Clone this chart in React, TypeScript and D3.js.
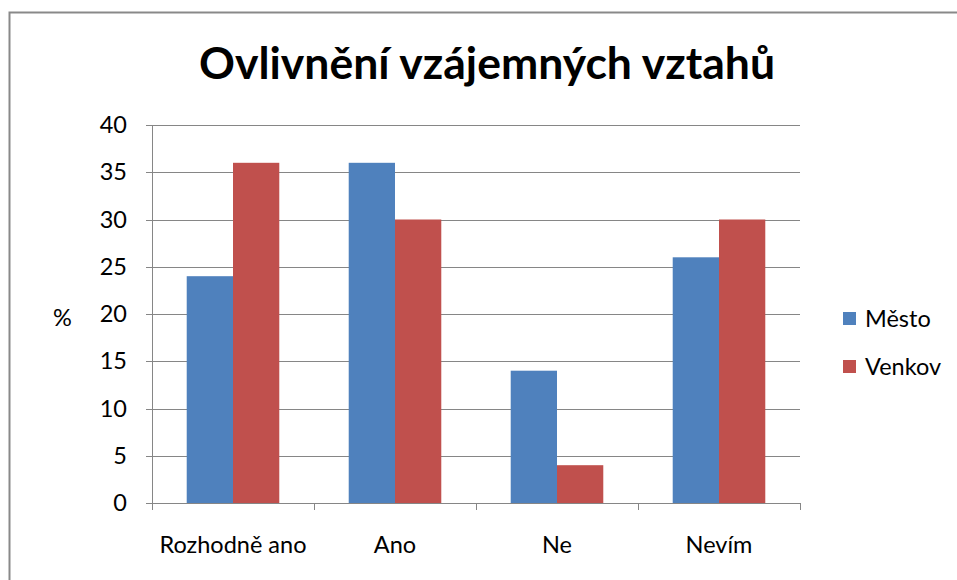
import * as d3 from "d3";

const title = "Ovlivnění vzájemných vztahů";
const categories = ["Rozhodně ano", "Ano", "Ne", "Nevím"];
const seriesNames = ["Město", "Venkov"];
const mestoValues = [24, 36, 14, 26];
const venkovValues = [36, 30, 4, 30];
const yTickValues = [0, 5, 10, 15, 20, 25, 30, 35, 40];
const colors = ["#4F81BD", "#C0504D"];

const W = 957;
const H = 580;
const plot = { left: 152, right: 800, top: 125, bottom: 503 };
const font = "Lato, Carlito, Calibri, sans-serif";
const labelSize = 23.5;

export default function App() {
	const x0 = d3
		.scaleBand<string>()
		.domain(categories)
		.range([plot.left, plot.right]);

	// Excel gap width ~75%: group takes band / 1.75
	const groupW = x0.bandwidth() / 1.75;
	const x1 = d3
		.scaleBand<string>()
		.domain(seriesNames)
		.range([0, groupW]);

	const y = d3.scaleLinear().domain([0, 40]).range([plot.bottom, plot.top]);

	const series = [mestoValues, venkovValues];
	const gridColor = "#868686";

	return (
		<div style={{ position: "fixed", left: 0, top: 0 }}>
			<svg width={W} height={H} style={{ display: "block", background: "#fff" }}>
				<rect
					x={9.5}
					y={12.5}
					width={W + 20}
					height={H + 20}
					fill="#fff"
					stroke="#898989"
					strokeWidth={2}
				/>
				<text
					x={487}
					y={79}
					textAnchor="middle"
					fontFamily={font}
					fontWeight="bold"
					fontSize={44.5}
					fill="#000"
				>
					{title}
				</text>

				{/* grid + y ticks */}
				{yTickValues.map((t) => (
					<g key={t}>
						<line
							x1={plot.left - 6}
							x2={plot.right}
							y1={Math.round(y(t)) + 0.5}
							y2={Math.round(y(t)) + 0.5}
							stroke={gridColor}
							strokeWidth={1}
						/>
						<text
							x={127}
							y={y(t) + 8}
							textAnchor="end"
							fontFamily={font}
							fontSize={labelSize}
							fill="#000"
						>
							{t}
						</text>
					</g>
				))}

				{/* bars */}
				{categories.map((c, i) => {
					const gx = (x0(c) as number) + (x0.bandwidth() - groupW) / 2;
					return (
						<g key={c}>
							{seriesNames.map((s, j) => (
								<rect
									key={s}
									x={gx + (x1(s) as number)}
									y={y(series[j][i])}
									width={x1.bandwidth()}
									height={y(0) - y(series[j][i])}
									fill={colors[j]}
								/>
							))}
						</g>
					);
				})}

				{/* axes */}
				<line
					x1={plot.left + 0.5}
					x2={plot.left + 0.5}
					y1={plot.top}
					y2={plot.bottom + 7}
					stroke={gridColor}
				/>
				{categories.map((c) => (
					<line
						key={c}
						x1={Math.round((x0(c) as number) + x0.bandwidth()) + 0.5}
						x2={Math.round((x0(c) as number) + x0.bandwidth()) + 0.5}
						y1={plot.bottom}
						y2={plot.bottom + 7}
						stroke={gridColor}
					/>
				))}
				{categories.map((c) => (
					<text
						key={c}
						x={(x0(c) as number) + x0.bandwidth() / 2}
						y={553}
						textAnchor="middle"
						fontFamily={font}
						fontSize={labelSize}
						fill="#000"
					>
						{c}
					</text>
				))}

				<text x={53} y={326} fontFamily={font} fontSize={labelSize} fill="#000">
					%
				</text>

				{/* legend */}
				{seriesNames.map((s, j) => (
					<g key={s} transform={`translate(843, ${312 + j * 48})`}>
						<rect width={13} height={13} fill={colors[j]} />
						<text x={22} y={15} fontFamily={font} fontSize={labelSize} fill="#000">
							{s}
						</text>
					</g>
				))}
			</svg>
		</div>
	);
}
